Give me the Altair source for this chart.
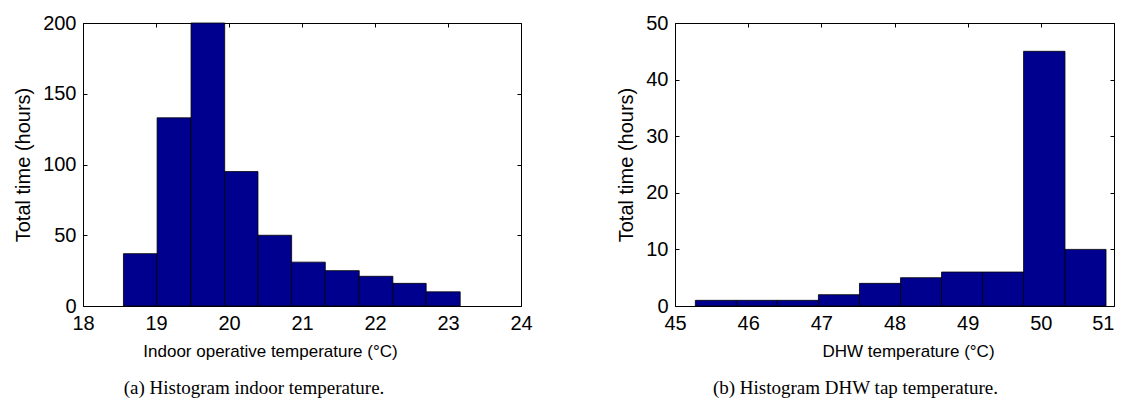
import altair as alt
import pandas as pd

# ---- data ----
indoor_edges = [18.554, 19.015, 19.480, 19.941, 20.397, 20.858, 21.319, 21.784, 22.245, 22.701, 23.167]
indoor_hours = [37, 133, 200, 95, 50, 31, 25, 21, 16, 10]
indoor_xticks = [18, 19, 20, 21, 22, 23, 24]
indoor_yticks = [0, 50, 100, 150, 200]

dhw_edges = [45.278, 45.839, 46.400, 46.960, 47.521, 48.082, 48.643, 49.203, 49.764, 50.330, 50.891]
dhw_hours = [1, 1, 1, 2, 4, 5, 6, 6, 45, 10]
dhw_xticks = [45, 46, 47, 48, 49, 50, 51]
dhw_yticks = [0, 10, 20, 30, 40, 50]

NAVY = "#00008F"
SANS = "Liberation Sans"
SERIF = "Liberation Serif"
TICK = 4


def panel(edges, hours, xdom, ydom, xticks, yticks, xtitle, ytitle, caption,
          w, h, title_x, cap_dx, last_label_align):
    df = pd.DataFrame({"lo": edges[:-1], "hi": edges[1:], "hours": hours})
    xs = alt.Scale(domain=xdom, nice=False, zero=False)
    ys = alt.Scale(domain=ydom, nice=False)
    common = dict(grid=False, domain=True, domainColor="black", domainWidth=1,
                  tickSize=alt.ExprRef(f"-{TICK}"),
                  tickColor="black", tickWidth=1)
    bars = alt.Chart(df).mark_rect(fill=NAVY, stroke="black", strokeWidth=0.8).encode(
        x=alt.X("lo:Q", scale=xs, axis=alt.Axis(
            values=xticks, title=xtitle, orient="bottom", labelPadding=7 + TICK,
            labelFontSize=20, labelFont=SANS, labelColor="black",
            labelAlign={"condition": {"test": f"datum.value == {xdom[1]}",
                                      "value": last_label_align},
                        "value": "center"},
            titleFont=SANS, titleFontSize=17, titleFontWeight="normal",
            titleColor="black", titlePadding=10, titleX=title_x, **common)),
        x2="hi:Q",
        y=alt.Y("hours:Q", scale=ys, axis=alt.Axis(
            values=yticks, title=ytitle, orient="left", labelPadding=7 + TICK,
            labelFontSize=20, labelFont=SANS, labelColor="black",
            titleFont=SANS, titleFontSize=20, titleFontWeight="normal",
            titleColor="black", titlePadding=9, **common)),
        y2=alt.datum(0),
    )
    mirror = alt.Chart(df).mark_rect(opacity=0).encode(
        x=alt.X("lo:Q", scale=xs, axis=alt.Axis(
            values=xticks, title=None, orient="top", labels=False, **common)),
        x2="hi:Q",
        y=alt.Y("hours:Q", scale=ys, axis=alt.Axis(
            values=yticks, title=None, orient="right", labels=False, **common)),
        y2=alt.datum(0),
    )
    return alt.layer(bars, mirror).resolve_axis(
        x="independent", y="independent"
    ).properties(
        width=w, height=h,
        title=alt.TitleParams(caption, orient="bottom", anchor="middle",
                              frame="group", font=SERIF, fontSize=19,
                              fontWeight="normal", color="black",
                              offset=20, dx=cap_dx),
    )


left = panel(indoor_edges, indoor_hours, [18, 24], [0, 200], indoor_xticks,
             indoor_yticks, "Indoor operative temperature (°C)",
             "Total time (hours)", "(a)  Histogram indoor temperature.",
             438, 283, 187, -48, "center")
right = panel(dhw_edges, dhw_hours, [45, 51], [0, 50], dhw_xticks,
              dhw_yticks, "DHW temperature (°C)",
              "Total time (hours)", "(b)  Histogram DHW tap temperature.",
              439, 283, 233, -39, "right")

chart = alt.hconcat(left, right, spacing=83).properties(
    padding={"left": 5, "top": 5, "right": 0, "bottom": 0}
).configure(
    background="white",
    view=alt.ViewConfig(strokeOpacity=0),
)

chart.save("out.html", embed_options={"renderer": "svg", "actions": False})
